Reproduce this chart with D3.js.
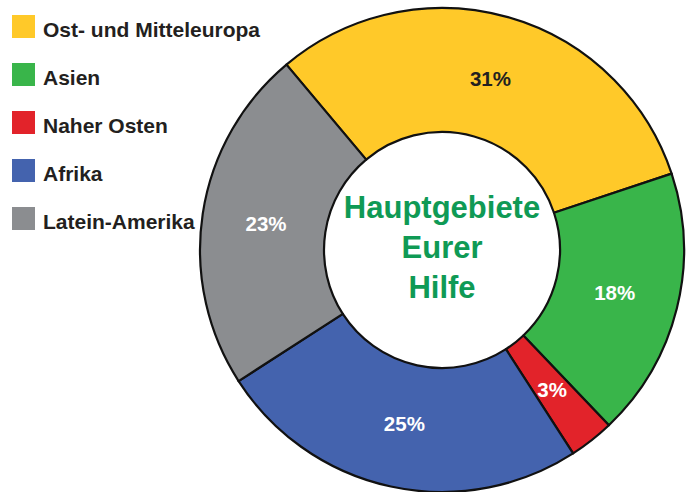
<!DOCTYPE html>
<html><head><meta charset="utf-8">
<script src="https://cdn.jsdelivr.net/npm/d3@7"></script>
<style>body{margin:0;background:#fff}svg{display:block}</style>
</head><body>
<svg id="c" width="690" height="492"></svg>
<script>
const categories = ["Ost- und Mitteleuropa", "Asien", "Naher Osten", "Afrika", "Latein-Amerika"];
const values = [31, 18, 3, 25, 23];
const colors = ["#FFC929", "#39B54A", "#E2232A", "#4463AE", "#8B8D90"];
const labelColors = ["#231F20", "#ffffff", "#ffffff", "#ffffff", "#ffffff"];
const centerLines = ["Hauptgebiete", "Eurer", "Hilfe"];

const svg = d3.select("#c");
const cx = 442, cy = 250, rOuter = 242, rInner = 118;
const startDeg = -40;

const pie = d3.pie().sort(null).value(d => d)
  .startAngle(startDeg * Math.PI / 180)
  .endAngle((startDeg + 360) * Math.PI / 180);
const arcs = pie(values);
const arc = d3.arc().innerRadius(rInner).outerRadius(rOuter);
const labelArc = d3.arc().innerRadius(118).outerRadius(238);

const g = svg.append("g").attr("transform", `translate(${cx},${cy})`);
g.selectAll("path.slice").data(arcs).join("path")
  .attr("class", "slice")
  .attr("d", arc)
  .attr("fill", (d, i) => colors[i])
  .attr("stroke", "#111")
  .attr("stroke-width", 2.2)
  .attr("stroke-linejoin", "round");

g.selectAll("text.pct").data(arcs).join("text")
  .attr("class", "pct")
  .attr("transform", d => `translate(${labelArc.centroid(d)})`)
  .attr("text-anchor", "middle")
  .attr("dy", "0.36em")
  .attr("font-family", "Liberation Sans, Arial, sans-serif")
  .attr("font-weight", "bold")
  .attr("font-size", 20.5)
  .attr("fill", (d, i) => labelColors[i])
  .text(d => d.data + "%");

g.selectAll("text.center").data(centerLines).join("text")
  .attr("class", "center")
  .attr("x", 0)
  .attr("y", (d, i) => -32 + i * 40)
  .attr("text-anchor", "middle")
  .attr("font-family", "Liberation Sans, Arial, sans-serif")
  .attr("font-weight", "bold")
  .attr("font-size", 31)
  .attr("fill", "#0F9A55")
  .text(d => d);

const legend = svg.append("g");
const ly = d3.scaleBand().domain(categories).range([15, 255]).paddingInner(0);
const items = legend.selectAll("g").data(categories).join("g")
  .attr("transform", d => `translate(12,${ly(d)})`);
items.append("rect").attr("width", 23).attr("height", 23)
  .attr("fill", (d, i) => colors[i]);
items.append("text").attr("x", 31).attr("y", 22)
  .attr("font-family", "Liberation Sans, Arial, sans-serif")
  .attr("font-weight", "bold")
  .attr("font-size", 21)
  .attr("fill", "#231F20")
  .text(d => d);
</script>
</body></html>
